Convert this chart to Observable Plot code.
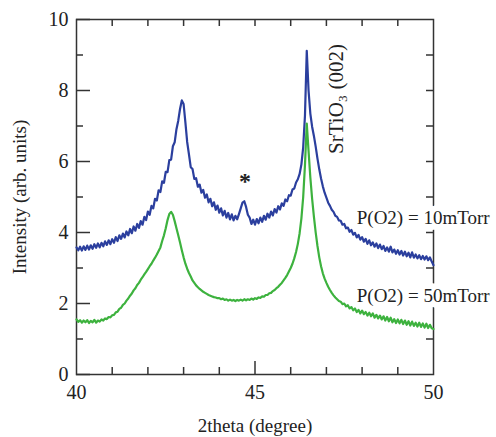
<!DOCTYPE html>
<html><head><meta charset="utf-8">
<script src="https://cdn.jsdelivr.net/npm/d3@7"></script>
<script src="https://cdn.jsdelivr.net/npm/@observablehq/plot@0.6"></script>
<style>html,body{margin:0;padding:0;background:#fff;overflow:hidden;}</style>
</head><body><div id="chart"></div>
<script>
const twoTheta = [
40.00,40.05,40.10,40.15,40.20,40.25,40.30,40.35,40.40,40.45,
40.50,40.55,40.60,40.65,40.70,40.75,40.80,40.85,40.90,40.95,
41.00,41.05,41.10,41.15,41.20,41.25,41.30,41.35,41.40,41.45,
41.50,41.55,41.60,41.65,41.70,41.75,41.80,41.85,41.90,41.95,
42.00,42.05,42.10,42.15,42.20,42.25,42.30,42.35,42.40,42.45,
42.50,42.55,42.60,42.65,42.70,42.75,42.80,42.85,42.90,42.95,
43.00,43.05,43.10,43.15,43.20,43.25,43.30,43.35,43.40,43.45,
43.50,43.55,43.60,43.65,43.70,43.75,43.80,43.85,43.90,43.95,
44.00,44.05,44.10,44.15,44.20,44.25,44.30,44.35,44.40,44.45,
44.50,44.55,44.60,44.65,44.70,44.75,44.80,44.85,44.90,44.95,
45.00,45.05,45.10,45.15,45.20,45.25,45.30,45.35,45.40,45.45,
45.50,45.55,45.60,45.65,45.70,45.75,45.80,45.85,45.90,45.95,
46.00,46.05,46.10,46.15,46.20,46.25,46.30,46.35,46.40,46.45,
46.50,46.55,46.60,46.65,46.70,46.75,46.80,46.85,46.90,46.95,
47.00,47.05,47.10,47.15,47.20,47.25,47.30,47.35,47.40,47.45,
47.50,47.55,47.60,47.65,47.70,47.75,47.80,47.85,47.90,47.95,
48.00,48.05,48.10,48.15,48.20,48.25,48.30,48.35,48.40,48.45,
48.50,48.55,48.60,48.65,48.70,48.75,48.80,48.85,48.90,48.95,
49.00,49.05,49.10,49.15,49.20,49.25,49.30,49.35,49.40,49.45,
49.50,49.55,49.60,49.65,49.70,49.75,49.80,49.85,49.90,49.95,
50.00];

const intensity10mTorr = [
3.58,3.50,3.60,3.49,3.61,3.51,3.63,3.52,3.64,3.54,
3.67,3.57,3.69,3.58,3.71,3.61,3.75,3.65,3.78,3.67,
3.81,3.71,3.87,3.76,3.92,3.82,3.97,3.86,4.03,3.92,
4.10,3.98,4.17,4.05,4.24,4.13,4.32,4.22,4.44,4.35,
4.59,4.50,4.75,4.68,4.95,4.90,5.19,5.14,5.44,5.40,
5.71,5.70,6.04,6.05,6.43,6.54,6.91,7.15,7.48,7.72,
7.62,7.10,6.55,6.20,5.84,5.79,5.51,5.53,5.29,5.35,
5.12,5.20,4.98,5.07,4.85,4.95,4.74,4.85,4.64,4.76,
4.56,4.68,4.48,4.61,4.42,4.55,4.37,4.51,4.34,4.47,
4.37,4.52,4.68,4.84,4.88,4.72,4.50,4.42,4.24,4.36,
4.22,4.38,4.26,4.42,4.30,4.47,4.36,4.53,4.42,4.59,
4.48,4.66,4.56,4.74,4.65,4.82,4.75,4.93,4.88,5.05,
5.04,5.21,5.24,5.41,5.50,5.65,5.92,6.40,7.30,9.12,
8.00,7.35,6.98,6.72,6.42,6.08,5.78,5.52,5.30,5.12,
4.98,4.84,4.75,4.64,4.58,4.47,4.44,4.34,4.33,4.22,
4.24,4.12,4.14,4.02,4.07,3.94,3.99,3.86,3.93,3.80,
3.87,3.74,3.82,3.68,3.78,3.64,3.72,3.60,3.69,3.56,
3.66,3.53,3.62,3.48,3.58,3.46,3.60,3.44,3.52,3.40,
3.50,3.38,3.48,3.35,3.46,3.33,3.43,3.30,3.44,3.29,
3.38,3.27,3.36,3.25,3.34,3.24,3.33,3.22,3.30,3.18,
3.08];

const intensity50mTorr = [
1.55,1.48,1.53,1.46,1.52,1.47,1.53,1.45,1.51,1.47,
1.54,1.46,1.52,1.49,1.55,1.52,1.58,1.56,1.62,1.61,
1.67,1.68,1.75,1.77,1.85,1.88,1.96,2.00,2.08,2.14,
2.22,2.28,2.37,2.43,2.52,2.58,2.67,2.74,2.82,2.89,
2.97,3.05,3.12,3.21,3.29,3.38,3.48,3.58,3.76,3.92,
4.12,4.35,4.52,4.58,4.50,4.32,4.12,3.92,3.72,3.50,
3.30,3.12,2.98,2.86,2.76,2.65,2.58,2.51,2.46,2.41,
2.37,2.33,2.30,2.27,2.24,2.22,2.20,2.18,2.17,2.15,
2.15,2.12,2.14,2.10,2.12,2.08,2.11,2.08,2.10,2.07,
2.10,2.08,2.11,2.08,2.12,2.09,2.12,2.10,2.14,2.11,
2.15,2.13,2.17,2.16,2.20,2.19,2.24,2.24,2.29,2.30,
2.35,2.38,2.43,2.47,2.53,2.58,2.65,2.72,2.80,2.90,
3.00,3.12,3.27,3.45,3.68,3.98,4.40,5.00,5.90,7.07,
6.30,5.55,4.95,4.45,4.00,3.62,3.30,3.05,2.85,2.70,
2.58,2.47,2.38,2.30,2.23,2.17,2.12,2.07,2.05,1.98,
2.00,1.92,1.95,1.86,1.90,1.81,1.86,1.76,1.82,1.72,
1.80,1.70,1.76,1.66,1.74,1.64,1.72,1.60,1.68,1.58,
1.66,1.55,1.64,1.52,1.62,1.50,1.60,1.47,1.56,1.45,
1.55,1.44,1.54,1.42,1.52,1.40,1.50,1.38,1.49,1.37,
1.46,1.35,1.46,1.34,1.44,1.32,1.43,1.31,1.40,1.30,
1.28];

const xLabelTicks = [40, 45, 50];
const xMinorTicks = [41, 42, 43, 44, 46, 47, 48, 49];
const xMidTick = [45];
const xTopTicks = [41, 42, 43, 44, 45, 46, 47, 48, 49];
const yLabelTicks = [0, 2, 4, 6, 8, 10];
const yMinorTicks = [1, 3, 5, 7, 9];
const yRightTicks = [1, 2, 3, 4, 5, 6, 7, 8, 9];

const seriesLabels = ["P(O2) = 10mTorr", "P(O2) = 50mTorr"];
const seriesLabelX = [47.85, 47.85];
const seriesLabelY = [4.42, 2.2];
const peakNote = ["SrTiO₃ (002)"];
const peakNoteX = [47.28];
const peakNoteY = [7.76];
const impurityNote = ["*"];
const impurityNoteX = [44.72];
const impurityNoteY = [5.45];

const xTitle = "2theta (degree)";
const yTitle = "Intensity (arb. units)";

const blueColor = "#2b3f9e";
const greenColor = "#3db23e";
const axisColor = "#333";
const font = "'Liberation Serif', 'Times New Roman', serif";

const blueData = twoTheta.map((t, i) => ({t, v: intensity10mTorr[i]}));
const greenData = twoTheta.map((t, i) => ({t, v: intensity50mTorr[i]}));
const labelData = seriesLabels.map((s, i) => ({s, x: seriesLabelX[i], y: seriesLabelY[i]}));
const noteData = peakNote.map((s, i) => ({s, x: peakNoteX[i], y: peakNoteY[i]}));
const starData = impurityNote.map((s, i) => ({s, x: impurityNoteX[i], y: impurityNoteY[i]}));

const blank = () => "";

const chart = Plot.plot({
  width: 496,
  height: 437,
  marginLeft: 76,
  marginRight: 63,
  marginTop: 19,
  marginBottom: 63,
  style: {fontFamily: font, fontSize: "20px", color: "#222", background: "#fff", overflow: "visible"},
  x: {domain: [40, 50]},
  y: {domain: [0, 10]},
  marks: [
    Plot.frame({stroke: axisColor, strokeWidth: 1.5}),
    Plot.axisX(xMinorTicks, {anchor: "bottom", tickSize: -7, tickFormat: blank, label: null, stroke: axisColor, strokeWidth: 1.5}),
    Plot.axisX(xMidTick, {anchor: "bottom", tickSize: -13, tickFormat: blank, label: null, stroke: axisColor, strokeWidth: 1.5}),
    Plot.axisX(xLabelTicks, {anchor: "bottom", tickSize: 0, tickPadding: 10, label: null, fontSize: 20}),
    Plot.axisX(xTopTicks, {anchor: "top", tickSize: -6, tickFormat: blank, label: null, stroke: axisColor, strokeWidth: 1.5}),
    Plot.axisY(yLabelTicks, {anchor: "left", tickSize: -14, tickFormat: blank, label: null, stroke: axisColor, strokeWidth: 1.5}),
    Plot.axisY(yMinorTicks, {anchor: "left", tickSize: -7, tickFormat: blank, label: null, stroke: axisColor, strokeWidth: 1.5}),
    Plot.axisY(yLabelTicks, {anchor: "left", tickSize: 0, tickPadding: 8, label: null, fontSize: 20}),
    Plot.axisY(yRightTicks, {anchor: "right", tickSize: -8, tickFormat: blank, label: null, stroke: axisColor, strokeWidth: 1.5}),
    Plot.text(labelData, {x: "x", y: "y", text: "s", textAnchor: "start", lineAnchor: "middle", fontSize: 19, fill: "white", stroke: "white", strokeWidth: 12}),
    Plot.line(blueData, {x: "t", y: "v", stroke: blueColor, strokeWidth: 2.2}),
    Plot.line(greenData, {x: "t", y: "v", stroke: greenColor, strokeWidth: 2.2}),
    Plot.text(labelData, {x: "x", y: "y", text: "s", textAnchor: "start", lineAnchor: "middle", fontSize: 19, fill: "#222"}),
    Plot.text(noteData, {x: "x", y: "y", text: "s", rotate: -90, textAnchor: "middle", lineAnchor: "middle", fontSize: 21, fill: "#222"}),
    Plot.text(starData, {x: "x", y: "y", text: "s", textAnchor: "middle", lineAnchor: "middle", fontSize: 24, fontWeight: "bold", fill: "#222"}),
    Plot.text([xTitle], {text: d => d, frameAnchor: "bottom", dy: 51, textAnchor: "middle", lineAnchor: "middle", fontSize: 19, fill: "#222"}),
    Plot.text([yTitle], {text: d => d, frameAnchor: "left", dx: -57, rotate: -90, textAnchor: "middle", lineAnchor: "middle", fontSize: 19, fill: "#222"})
  ]
});
document.getElementById("chart").appendChild(chart);
</script>
</body></html>
